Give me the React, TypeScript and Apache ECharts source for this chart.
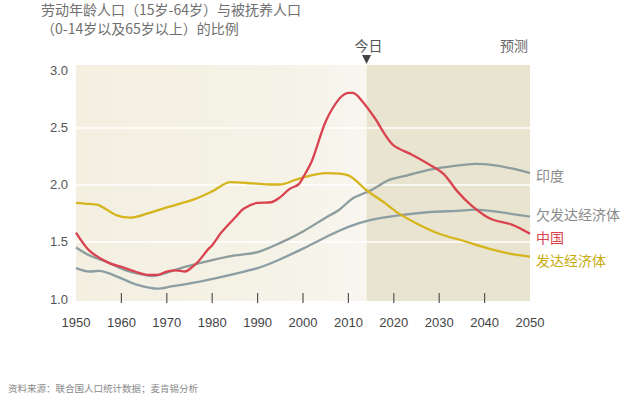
import React, { useEffect, useRef } from "react";
import * as echarts from "echarts";

const TITLE_LINE_1 = "劳动年龄人口（15岁-64岁）与被抚养人口";
const TITLE_LINE_2 = "（0-14岁以及65岁以上）的比例";
const SOURCE = "资料来源：联合国人口统计数据；麦肯锡分析";
const TODAY_LABEL = "今日";
const FORECAST_LABEL = "预测";
const TODAY_YEAR = 2014;
const X_MIN = 1950;
const X_MAX = 2050;
const TICK_YEARS = [1960, 1970, 1980, 1990, 2000, 2010, 2020, 2030, 2040];

const SERIES_NAMES = ["印度", "欠发达经济体", "中国", "发达经济体"];

const INDIA: [number, number][] = [
  [1950, 1.45], [1953, 1.38], [1957, 1.32], [1961, 1.25], [1965, 1.21], [1967, 1.2],
  [1970, 1.23], [1974, 1.28], [1980, 1.34], [1985, 1.38], [1990, 1.41], [1995, 1.49],
  [2000, 1.59], [2005, 1.71], [2008, 1.78], [2011, 1.88], [2015, 1.95], [2019, 2.04],
  [2023, 2.08], [2028, 2.13], [2033, 2.16], [2038, 2.18], [2042, 2.17], [2046, 2.14],
  [2050, 2.1],
];

const LESS_DEVELOPED: [number, number][] = [
  [1950, 1.27], [1953, 1.24], [1955, 1.245], [1960, 1.18], [1963, 1.13], [1968, 1.09],
  [1971, 1.11], [1977, 1.15], [1985, 1.22], [1990, 1.27], [1994, 1.33], [2000, 1.44],
  [2005, 1.54], [2010, 1.63], [2015, 1.69], [2021, 1.73], [2028, 1.76], [2034, 1.77],
  [2038, 1.78], [2043, 1.76], [2050, 1.72],
];

const CHINA: [number, number][] = [
  [1950, 1.58], [1953, 1.42], [1957, 1.32], [1960, 1.28], [1963, 1.24], [1966, 1.21],
  [1968, 1.21], [1970, 1.24], [1972, 1.25], [1974, 1.24], [1975, 1.26], [1977, 1.33],
  [1979, 1.43], [1980, 1.47], [1982, 1.58], [1985, 1.71], [1987, 1.79], [1990, 1.84],
  [1993, 1.845], [1995, 1.89], [1997, 1.96], [1999, 2.0], [2000, 2.06], [2002, 2.21],
  [2005, 2.55], [2008, 2.75], [2010, 2.8], [2011, 2.8], [2013, 2.73], [2016, 2.57],
  [2018, 2.44], [2020, 2.34], [2024, 2.26], [2028, 2.17], [2031, 2.09], [2034, 1.94],
  [2037, 1.82], [2040, 1.73], [2042, 1.69], [2046, 1.65], [2050, 1.57],
];

const DEVELOPED: [number, number][] = [
  [1950, 1.84], [1953, 1.83], [1955, 1.82], [1959, 1.73], [1962, 1.71], [1966, 1.75],
  [1970, 1.8], [1976, 1.87], [1980, 1.94], [1984, 2.02], [1989, 2.01], [1993, 2.0],
  [1995, 2.0], [1999, 2.05], [2005, 2.1], [2010, 2.08], [2014, 1.95], [2018, 1.84],
  [2021, 1.75], [2025, 1.66], [2030, 1.57], [2036, 1.5], [2040, 1.45], [2045, 1.4],
  [2050, 1.37],
];

const SERIES_DATA = [INDIA, LESS_DEVELOPED, CHINA, DEVELOPED];
const SERIES_COLORS = ["#8d9c9c", "#8c9ea4", "#d9434f", "#d6b41c"];
const LABEL_COLORS = ["#8a8a8a", "#8a8a8a", "#d9434f", "#c9ab10"];
const LABEL_OFFSETS = [2, -3, 3, 3];

const SANS = "'Noto Sans CJK SC', 'Liberation Sans', sans-serif";
const NUM = "'Liberation Sans', Arial, sans-serif";

export default function App() {
  const ref = useRef<HTMLDivElement>(null);

  useEffect(() => {
    if (!ref.current) return;
    const chart = echarts.init(ref.current, undefined, { renderer: "svg" });
    chart.setOption({
      animation: false,
      backgroundColor: "#ffffff",
      grid: { left: 76, right: 110, top: 70, bottom: 98, containLabel: false },
      xAxis: {
        type: "value",
        min: X_MIN,
        max: X_MAX,
        interval: 10,
        axisLine: { show: false },
        axisTick: { show: false },
        splitLine: { show: false },
        axisLabel: {
          color: "#444",
          fontSize: 13,
          fontFamily: NUM,
          margin: 17,
          formatter: (v: number) => String(v),
        },
      },
      yAxis: {
        type: "value",
        min: 1,
        max: 3,
        interval: 0.5,
        axisLine: { show: false },
        axisTick: { show: false },
        axisLabel: {
          color: "#555",
          fontSize: 13,
          fontFamily: NUM,
          margin: 8,
          formatter: (v: number) => v.toFixed(1),
        },
        splitLine: {
          show: true,
          showMinLine: false,
          showMaxLine: false,
          lineStyle: { color: "#ffffff", width: 1.5 },
        },
      },
      series: SERIES_NAMES.map((name, i) => ({
        name,
        type: "line",
        data: SERIES_DATA[i],
        showSymbol: false,
        smooth: 0.3,
        lineStyle: { color: SERIES_COLORS[i], width: 2.3 },
        z: i === 2 ? 4 : 3,
        endLabel: {
          show: true,
          formatter: name,
          color: LABEL_COLORS[i],
          fontSize: 14,
          fontFamily: SANS,
          distance: 6,
          offset: [0, LABEL_OFFSETS[i]],
        },
      })),
    });

    const p0 = chart.convertToPixel({ gridIndex: 0 }, [X_MIN, 1]) as number[];
    const p1 = chart.convertToPixel({ gridIndex: 0 }, [X_MAX, 3]) as number[];
    const pt = chart.convertToPixel({ gridIndex: 0 }, [TODAY_YEAR, 3]) as number[];
    const top = p1[1] - 5;
    const bottom = p0[1] + 2;

    const ticks = TICK_YEARS.map((yr) => {
      const p = chart.convertToPixel({ gridIndex: 0 }, [yr, 1]) as number[];
      return {
        type: "line",
        z: 5,
        shape: { x1: p[0], y1: p[1] - 6, x2: p[0], y2: p[1] + 4 },
        style: { stroke: "#555", lineWidth: 1.2 },
      };
    });

    chart.setOption({
      graphic: [
        {
          type: "rect",
          z: -10,
          shape: { x: p0[0], y: top, width: pt[0] - p0[0], height: bottom - top },
          style: {
            fill: new echarts.graphic.LinearGradient(0, 0, 1, 0, [
              { offset: 0, color: "#f3efe1" },
              { offset: 0.7, color: "#f5f2e7" },
              { offset: 1, color: "#f8f6ef" },
            ]),
          },
        },
        {
          type: "rect",
          z: -10,
          shape: { x: pt[0], y: top, width: p1[0] - pt[0], height: bottom - top },
          style: { fill: "#e9e4cf" },
        },
        ...ticks,
        {
          type: "text",
          x: pt[0] + 2,
          y: top - 20,
          style: {
            text: TODAY_LABEL,
            fill: "#555",
            font: `14px ${SANS}`,
            textAlign: "center",
            textVerticalAlign: "middle",
          },
        },
        {
          type: "polygon",
          shape: { points: [[pt[0] - 4.5, top - 10], [pt[0] + 4.5, top - 10], [pt[0], top - 1]] },
          style: { fill: "#444" },
        },
        {
          type: "text",
          x: p1[0] - 2,
          y: top - 20,
          style: {
            text: FORECAST_LABEL,
            fill: "#666",
            font: `14px ${SANS}`,
            textAlign: "right",
            textVerticalAlign: "middle",
          },
        },
        {
          type: "text",
          x: 41,
          y: 9,
          style: {
            text: TITLE_LINE_1,
            fill: "#707070",
            font: `14px ${SANS}`,
            textVerticalAlign: "middle",
          },
        },
        {
          type: "text",
          x: 41,
          y: 28,
          style: {
            text: TITLE_LINE_2,
            fill: "#707070",
            font: `14px ${SANS}`,
            textVerticalAlign: "middle",
          },
        },
        {
          type: "text",
          x: 8,
          y: 388,
          style: {
            text: SOURCE,
            fill: "#8a8a8a",
            font: `9.5px ${SANS}`,
            textVerticalAlign: "middle",
          },
        },
      ],
    });

    return () => chart.dispose();
  }, []);

  return <div ref={ref} style={{ width: 640, height: 397, position: "absolute", left: 0, top: 0 }} />;
}
